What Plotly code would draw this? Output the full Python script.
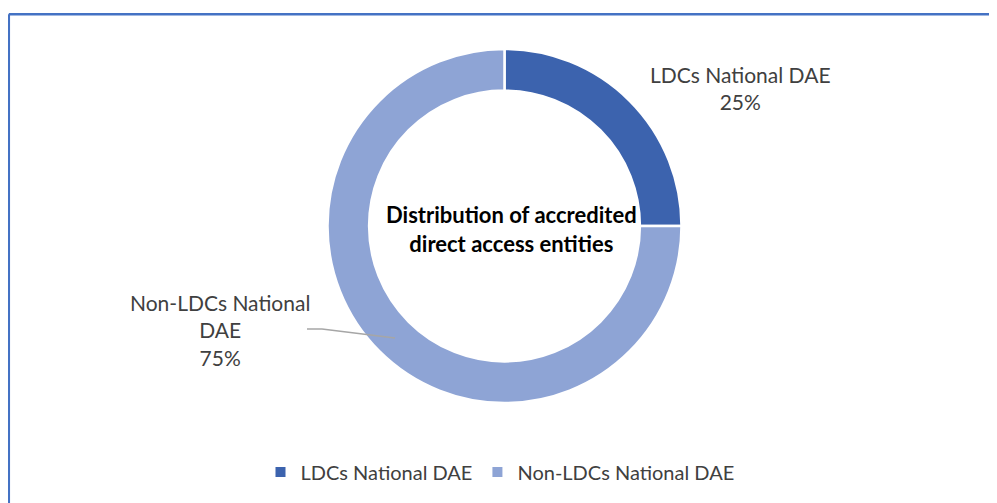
import plotly.graph_objects as go

categories = ["LDCs National DAE", "Non-LDCs National DAE"]
values = [25, 75]
colors = ["#3C63AE", "#8EA4D5"]
label_texts = ["LDCs National DAE", "Non-LDCs National<br>DAE"]
center_title = "Distribution of accredited<br>direct access entities"

W, H = 997, 503
OFF = 8  # page body margin
total = sum(values)
pcts = [f"{round(v * 100 / total)}%" for v in values]


def px(x):
    return (x - OFF) / W


def py(y):
    return 1 - (y - OFF) / H


fig = go.Figure()
fig.add_trace(go.Pie(
    labels=categories,
    values=values,
    hole=0.765,
    sort=False,
    direction="clockwise",
    rotation=0,
    marker=dict(colors=colors, line=dict(color="white", width=2.5)),
    textinfo="none",
    hoverinfo="label+percent",
    domain=dict(x=[px(327.5), px(681.5)], y=[py(403), py(49)]),
))

font_family = "Lato, 'Open Sans', sans-serif"

fig.add_annotation(x=px(740), y=py(88), xref="paper", yref="paper",
                   text=f"{label_texts[0]}<br>{pcts[0]}", showarrow=False,
                   font=dict(size=21, color="#404040", family=font_family),
                   align="center", xanchor="center", yanchor="middle")
fig.add_annotation(x=px(220), y=py(330), xref="paper", yref="paper",
                   text=f"{label_texts[1]}<br>{pcts[1]}", showarrow=False,
                   font=dict(size=21, color="#404040", family=font_family),
                   align="center", xanchor="center", yanchor="middle")
fig.add_annotation(x=px(511), y=py(228.5), xref="paper", yref="paper",
                   text=f"<b>{center_title}</b>", showarrow=False,
                   font=dict(size=22, color="#000000", family=font_family),
                   align="center", xanchor="center", yanchor="middle")

# leader line
fig.add_shape(type="path", xref="paper", yref="paper",
              path=f"M {px(307)} {py(329)} L {px(322)} {py(329)} L {px(395)} {py(338)}",
              line=dict(color="#A6A6A6", width=1.5))

# chart border (top and left visible)
fig.add_shape(type="line", xref="paper", yref="paper",
              x0=px(8.8), y0=py(14.3), x1=1.02, y1=py(14.3),
              line=dict(color="#4472C4", width=2.5))
fig.add_shape(type="line", xref="paper", yref="paper",
              x0=px(8.8), y0=py(14.3), x1=px(8.8), y1=-0.02,
              line=dict(color="#4472C4", width=2.5))

fig.update_layout(
    width=W, height=H,
    margin=dict(l=0, r=0, t=0, b=0),
    paper_bgcolor="white",
    plot_bgcolor="white",
    showlegend=True,
    legend=dict(orientation="h", x=px(500), xanchor="center", y=py(472), yanchor="middle",
                font=dict(size=20, color="#404040", family=font_family),
                itemsizing="constant", traceorder="normal"),
)

fig.write_html("out.html")
